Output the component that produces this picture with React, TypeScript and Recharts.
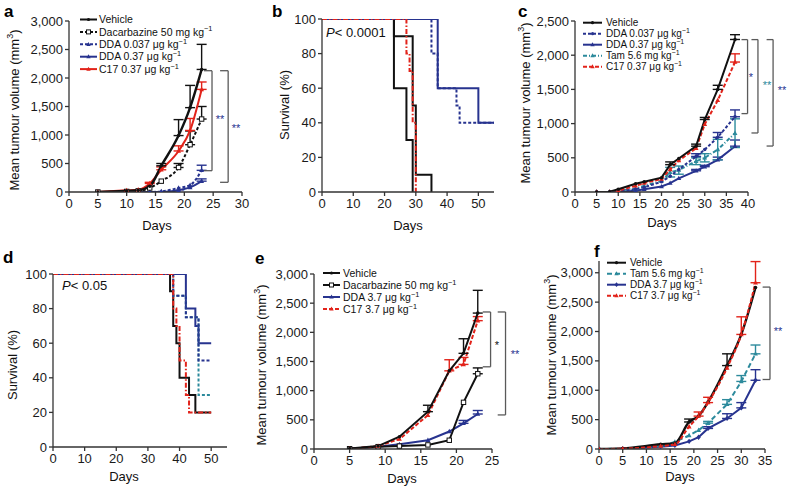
import React from 'react';
import { LineChart, Line, XAxis, YAxis, ErrorBar, ReferenceLine } from 'recharts';

const FONT = '"Liberation Sans", Arial, Helvetica, sans-serif';
const BLACK = '#111111';
const RED = '#e2231a';
const NAVY = '#27338f';
const TEAL = '#2c8a9c';
const GREY = '#5a5a5a';
const AXIS = '#333333';

// ---------- Panel a ----------
const aDays = [5, 10, 12, 14, 16, 19, 21, 23];
const aVehicle = [0, 20, 30, 100, 460, 990, 1480, 2150];
const aVehicleErr = [0, 0, 0, 0, 40, 280, 390, 440];
const aDacar = [0, 10, 20, 70, 190, 430, 830, 1280];
const aDacarErr = [0, 0, 0, 0, 0, 70, 240, 220];
const aDDA037 = [0, 0, 0, 0, 10, 70, 120, 380];
const aDDA037Err = [0, 0, 0, 0, 0, 0, 0, 90];
const aDDA37 = [0, 0, 0, 0, 0, 30, 80, 190];
const aDDA37Err = [0, 0, 0, 0, 0, 0, 0, 40];
const aC17 = [0, 30, 40, 150, 390, 720, 1080, 1800];
const aC17Err = [0, 0, 0, 20, 50, 90, 210, 130];
const aXTicks = [0, 5, 10, 15, 20, 25, 30];
const volTicks3000 = [0, 500, 1000, 1500, 2000, 2500, 3000];

// ---------- Panel b (survival) ----------
const bBlack1Days = [0, 23, 27, 29];
const bBlack1Surv = [100, 60, 30, 0];
const bBlack2Days = [0, 23, 29, 30, 35];
const bBlack2Surv = [100, 90, 50, 10, 0];
const bRedDays = [0, 27, 28, 29, 30];
const bRedSurv = [100, 80, 70, 40, 0];
const bNavyDays = [0, 37, 50, 55];
const bNavySurv = [100, 60, 40, 40];
const bNavyDashDays = [0, 35, 37, 43, 44, 55];
const bNavyDashSurv = [100, 80, 60, 50, 40, 40];
const survXTicks = [0, 10, 20, 30, 40, 50];
const survYTicks = [0, 20, 40, 60, 80, 100];

// ---------- Panel c ----------
const cDays = [5, 8, 10, 14, 16, 20, 22, 24, 28, 30, 33, 37];
const cVehicle = [0, 5, 40, 120, 150, 210, 400, 490, 670, 1060, 1500, 2230];
const cVehicleErr = [0, 0, 0, 0, 0, 0, 40, 0, 30, 30, 60, 70];
const cDDA037 = [0, 0, 10, 40, 70, 150, 230, 330, 520, 620, 800, 1100];
const cDDA037Err = [0, 0, 0, 0, 0, 0, 0, 0, 40, 0, 70, 100];
const cDDA37 = [0, 0, 0, 20, 40, 80, 130, 200, 310, 370, 470, 670];
const cDDA37Err = [0, 0, 0, 0, 0, 0, 0, 0, 20, 20, 40, 90];
const cTam = [0, 0, 20, 50, 90, 160, 290, 320, 450, 500, 620, 860];
const cTamErr = [0, 0, 0, 0, 0, 0, 70, 60, 50, 60, 150, 210];
const cC17 = [0, 0, 20, 90, 130, 190, 330, 460, 640, 990, 1340, 1900];
const cC17Err = [0, 0, 0, 0, 0, 0, 0, 0, 0, 0, 0, 120];
const cXTicks = [0, 5, 10, 15, 20, 25, 30, 35, 40];
const cYTicks = [0, 500, 1000, 1500, 2000, 2500];

// ---------- Panel d (survival) ----------
const dBlackDays = [0, 37, 38, 39, 40, 43, 45, 50];
const dBlackSurv = [100, 90, 70, 60, 40, 30, 20, 20];
const dRedDays = [0, 38, 39, 40, 42, 43, 50];
const dRedSurv = [100, 80, 70, 50, 30, 20, 20];
const dNavyDays = [0, 42, 45, 46, 50];
const dNavySurv = [100, 80, 70, 60, 60];
const dNavyDashDays = [0, 38, 42, 46, 50];
const dNavyDashSurv = [100, 87.5, 75, 50, 50];
const dTealDays = [0, 38, 42, 46, 50];
const dTealSurv = [100, 87.5, 75, 30, 30];

// ---------- Panel e ----------
const eDays = [5, 9, 12, 16, 19, 21, 23];
const eVehicle = [10, 50, 210, 640, 1340, 1640, 2330];
const eVehicleErr = [0, 0, 0, 110, 0, 250, 390];
const eDacar = [5, 40, 50, 70, 150, 800, 1290];
const eDacarErr = [0, 0, 0, 0, 0, 0, 100];
const eDDA = [5, 40, 80, 150, 300, 440, 600];
const eDDAErr = [0, 0, 0, 0, 0, 50, 60];
const eC17 = [0, 50, 170, 580, 1340, 1450, 2200];
const eC17Err = [0, 0, 0, 0, 190, 120, 70];
const eXTicks = [0, 5, 10, 15, 20, 25];

// ---------- Panel f ----------
const fDays = [0, 5, 13, 16, 19, 21, 23, 27, 30, 33];
const fVehicle = [0, 10, 80, 100, 460, 560, 800, 1420, 1950, 2750];
const fVehicleErr = [0, 0, 0, 0, 50, 0, 0, 200, 0, 0];
const fTam = [0, 5, 50, 120, 230, 320, 440, 760, 1150, 1620];
const fTamErr = [0, 0, 0, 0, 0, 0, 30, 80, 100, 150];
const fDDA = [0, 5, 40, 60, 130, 200, 350, 520, 700, 1170];
const fDDAErr = [0, 0, 0, 0, 0, 0, 30, 80, 90, 180];
const fC17 = [0, 5, 50, 80, 380, 560, 790, 1380, 1950, 2830];
const fC17Err = [0, 0, 0, 0, 0, 70, 90, 0, 300, 360];
const fXTicks = [0, 5, 10, 15, 20, 25, 30, 35];

// ---------- helpers ----------
type Shape = 'dot' | 'square' | 'tri' | 'diamond' | 'none';

function rows(days: number[], vals: number[], errs?: number[], sym = false) {
  return days.map((x, i) => {
    const ev = errs ? errs[i] : 0;
    return { x, y: vals[i], e: ev ? (sym ? ev : [0, ev]) : null };
  });
}

function Marker({ cx, cy, shape, color, s = 2.2 }: { cx: number; cy: number; shape: Shape; color: string; s?: number }) {
  if (shape === 'none') return null;
  if (shape === 'dot') return <circle cx={cx} cy={cy} r={s * 0.8} fill={color} stroke="none" />;
  if (shape === 'square')
    return <rect x={cx - s} y={cy - s} width={2 * s} height={2 * s} fill="#fff" stroke={color} strokeWidth={1} />;
  if (shape === 'tri')
    return <path d={`M${cx},${cy - s * 1.2}L${cx + s * 1.1},${cy + s * 0.8}L${cx - s * 1.1},${cy + s * 0.8}Z`} fill={color} />;
  return <path d={`M${cx},${cy - s * 1.2}L${cx + s},${cy}L${cx},${cy + s * 1.2}L${cx - s},${cy}Z`} fill={color} />;
}

const dotFn = (shape: Shape, color: string, s = 2.2) => (p: any) => {
  const k = `m-${p.index}`;
  if (p.cx == null || p.cy == null) return <g key={k} />;
  return (
    <g key={k}>
      <Marker cx={p.cx} cy={p.cy} shape={shape} color={color} s={s} />
    </g>
  );
};

function series(
  key: string,
  data: any[],
  color: string,
  opts: { dash?: string; shape?: Shape; curve?: any; width?: number; err?: boolean }
) {
  return (
    <Line
      key={key}
      data={data}
      dataKey="y"
      type={opts.curve || 'linear'}
      stroke={color}
      strokeWidth={opts.width || 2}
      strokeDasharray={opts.dash}
      dot={opts.shape && opts.shape !== 'none' ? dotFn(opts.shape, color) : false}
      activeDot={false}
      isAnimationActive={false}
    >
      {opts.err ? <ErrorBar dataKey="e" width={5} stroke={color} strokeWidth={1.4} direction="y" /> : null}
    </Line>
  );
}

function stepSeries(key: string, days: number[], surv: number[], color: string, dash?: string) {
  const data = days.map((x, i) => ({ x, y: surv[i] }));
  return (
    <Line
      key={key}
      data={data}
      dataKey="y"
      type="stepAfter"
      stroke={color}
      strokeWidth={2}
      strokeDasharray={dash}
      dot={false}
      activeDot={false}
      isAnimationActive={false}
    />
  );
}

function bracket(key: string, x0: number, x1: number, yTop: number, yBot: number) {
  const common = { stroke: GREY, strokeWidth: 1.3, ifOverflow: 'visible' as const };
  return [
    <ReferenceLine key={key + 't'} segment={[{ x: x0, y: yTop }, { x: x1, y: yTop }]} {...common} />,
    <ReferenceLine key={key + 'v'} segment={[{ x: x1, y: yTop }, { x: x1, y: yBot }]} {...common} />,
    <ReferenceLine key={key + 'b'} segment={[{ x: x0, y: yBot }, { x: x1, y: yBot }]} {...common} />,
  ];
}

const fmt = (v: number) => v.toLocaleString('en-US');
const tickStyle = { fontSize: 13, fill: '#1a1a1a', fontFamily: FONT };

function Panel(props: {
  pl: number; pt: number; pw: number; ph: number;
  xDomain: [number, number]; xTicks: number[];
  yDomain: [number, number]; yTicks: number[];
  right?: number; children: any;
}) {
  const { pl, pt, pw, ph, xDomain, xTicks, yDomain, yTicks, children } = props;
  const right = props.right ?? 10;
  const YW = 50, TOPM = 10, XH = 30;
  return (
    <div style={{ position: 'absolute', left: pl - YW, top: pt - TOPM }}>
      <LineChart
        width={pw + YW + right}
        height={ph + TOPM + XH}
        margin={{ top: TOPM, right, bottom: 0, left: 0 }}
      >
        <XAxis
          type="number"
          dataKey="x"
          domain={xDomain}
          ticks={xTicks}
          allowDataOverflow
          height={XH}
          tickSize={4}
          tickMargin={3}
          tick={tickStyle}
          axisLine={{ stroke: AXIS, strokeWidth: 1.3 }}
          tickLine={{ stroke: AXIS, strokeWidth: 1.3 }}
          interval={0}
        />
        <YAxis
          type="number"
          domain={yDomain}
          ticks={yTicks}
          allowDataOverflow
          width={YW}
          tickSize={4}
          tickMargin={2}
          tick={tickStyle}
          tickFormatter={fmt}
          axisLine={{ stroke: AXIS, strokeWidth: 1.3 }}
          tickLine={{ stroke: AXIS, strokeWidth: 1.3 }}
          interval={0}
        />
        {children}
      </LineChart>
    </div>
  );
}

// ---------- legends ----------
type LegendItem = { label: string; sup?: string; color: string; dash?: string; shape: Shape };

const legendA: LegendItem[] = [
  { label: 'Vehicle', color: BLACK, shape: 'dot' },
  { label: 'Dacarbazine 50 mg kg', sup: '\u22121', color: BLACK, dash: '3 2', shape: 'square' },
  { label: 'DDA 0.037 \u03bcg kg', sup: '\u22121', color: NAVY, dash: '3 2', shape: 'tri' },
  { label: 'DDA  0.37 \u03bcg kg', sup: '\u22121', color: NAVY, shape: 'tri' },
  { label: 'C17 0.37 \u03bcg kg', sup: '\u22121', color: RED, shape: 'tri' },
];
const legendC: LegendItem[] = [
  { label: 'Vehicle', color: BLACK, shape: 'dot' },
  { label: 'DDA 0.037 \u03bcg kg', sup: '\u22121', color: NAVY, dash: '3 2', shape: 'dot' },
  { label: 'DDA 0.37 \u03bcg kg', sup: '\u22121', color: NAVY, shape: 'tri' },
  { label: 'Tam 5.6 mg kg', sup: '\u22121', color: TEAL, dash: '4 2 1 2', shape: 'tri' },
  { label: 'C17 0.37 \u03bcg kg', sup: '\u22121', color: RED, dash: '4 2', shape: 'tri' },
];
const legendE: LegendItem[] = [
  { label: 'Vehicle', color: BLACK, shape: 'dot' },
  { label: 'Dacarbazine 50 mg kg', sup: '\u22121', color: BLACK, shape: 'square' },
  { label: 'DDA 3.7 \u03bcg kg', sup: '\u22121', color: NAVY, shape: 'tri' },
  { label: 'C17 3.7 \u03bcg kg', sup: '\u22121', color: RED, dash: '4 2', shape: 'tri' },
];
const legendF: LegendItem[] = [
  { label: 'Vehicle', color: BLACK, shape: 'dot' },
  { label: 'Tam 5.6 mg kg', sup: '\u22121', color: TEAL, dash: '5 3', shape: 'tri' },
  { label: 'DDA 3.7 \u03bcg kg', sup: '\u22121', color: NAVY, shape: 'diamond' },
  { label: 'C17 3.7 \u03bcg kg', sup: '\u22121', color: RED, dash: '4 2', shape: 'tri' },
];

function Legend({ x0, x1, tx, y0, dy, fs, items }: { x0: number; x1: number; tx: number; y0: number; dy: number; fs: number; items: LegendItem[] }) {
  return (
    <g>
      {items.map((it, i) => {
        const cy = y0 + i * dy;
        return (
          <g key={i}>
            <line x1={x0} y1={cy} x2={x1} y2={cy} stroke={it.color} strokeWidth={2} strokeDasharray={it.dash} />
            <Marker cx={(x0 + x1) / 2} cy={cy} shape={it.shape} color={it.color} s={2} />
            <text x={tx} y={cy + fs * 0.36} fontSize={fs} fill="#111" fontFamily={FONT}>
              {it.label}
              {it.sup ? <tspan dy={-fs * 0.4} fontSize={fs * 0.7}>{it.sup}</tspan> : null}
            </text>
          </g>
        );
      })}
    </g>
  );
}

function YTitle({ cx, cy, text, sup }: { cx: number; cy: number; text: string; sup?: boolean }) {
  return (
    <text transform={`translate(${cx},${cy}) rotate(-90)`} textAnchor="middle" fontSize={13} fill="#111" fontFamily={FONT} dominantBaseline="central">
      {sup ? (
        <>
          {'Mean tumour volume (mm'}
          <tspan dy={-4} fontSize={9}>3</tspan>
          <tspan dy={4}>)</tspan>
        </>
      ) : (
        text
      )}
    </text>
  );
}

function XTitle({ cx, y }: { cx: number; y: number }) {
  return (
    <text x={cx} y={y} textAnchor="middle" fontSize={13} fill="#111" fontFamily={FONT}>
      Days
    </text>
  );
}

function Letter({ x, y, t }: { x: number; y: number; t: string }) {
  return (
    <text x={x} y={y} fontSize={17} fontWeight="bold" fill="#000" fontFamily={FONT}>
      {t}
    </text>
  );
}

function Star({ x, y, t, color, fs = 11 }: { x: number; y: number; t: string; color: string; fs?: number }) {
  return (
    <text x={x} y={y + fs * 0.45} textAnchor="middle" fontSize={fs} fill={color} fontFamily={FONT}>
      {t}
    </text>
  );
}

function PText({ x, y, rest }: { x: number; y: number; rest: string }) {
  return (
    <text x={x} y={y} fontSize={13} fill="#111" fontFamily={FONT}>
      <tspan fontStyle="italic">P</tspan>
      {rest}
    </text>
  );
}

export default function App() {
  return (
    <div style={{ position: 'absolute', left: 0, top: 0, width: 788, height: 489, background: '#fff', overflow: 'hidden' }}>
      {/* a */}
      <Panel pl={69} pt={21} pw={173} ph={171} xDomain={[0, 30]} xTicks={aXTicks} yDomain={[0, 3000]} yTicks={volTicks3000}>
        {series('aD37', rows(aDays, aDDA37, aDDA37Err), NAVY, { shape: 'tri', curve: 'monotone', err: true })}
        {series('aD037', rows(aDays, aDDA037, aDDA037Err), NAVY, { dash: '3 2', shape: 'tri', curve: 'monotone', err: true })}
        {series('aDac', rows(aDays, aDacar, aDacarErr), BLACK, { dash: '3 2', shape: 'square', curve: 'monotone', err: true })}
        {series('aC17', rows(aDays, aC17, aC17Err), RED, { shape: 'tri', curve: 'monotone', err: true })}
        {series('aVeh', rows(aDays, aVehicle, aVehicleErr), BLACK, { shape: 'dot', curve: 'monotone', err: true, width: 2.4 })}
        {bracket('a1', 23.4, 24.8, 2128, 374)}
        {bracket('a2', 26.2, 27.6, 2128, 170)}
      </Panel>

      {/* b */}
      <Panel pl={322} pt={19} pw={172} ph={173} xDomain={[0, 55]} xTicks={survXTicks} yDomain={[0, 100]} yTicks={survYTicks}>
        {stepSeries('bK1', bBlack1Days, bBlack1Surv, BLACK)}
        {stepSeries('bK2', bBlack2Days, bBlack2Surv, BLACK)}
        {stepSeries('bN', bNavyDays, bNavySurv, NAVY)}
        {stepSeries('bND', bNavyDashDays, bNavyDashSurv, NAVY, '3 2')}
        {stepSeries('bR', bRedDays, bRedSurv, RED, '5 2 1.5 2')}
      </Panel>

      {/* c */}
      <Panel pl={575} pt={21} pw={173} ph={171} xDomain={[0, 40]} xTicks={cXTicks} yDomain={[0, 2500]} yTicks={cYTicks} right={40}>
        {series('cD37', rows(cDays, cDDA37, cDDA37Err), NAVY, { shape: 'tri', err: true })}
        {series('cTam', rows(cDays, cTam, cTamErr, true), TEAL, { dash: '4 2 1 2', shape: 'tri', err: true })}
        {series('cD037', rows(cDays, cDDA037, cDDA037Err), NAVY, { dash: '3 2', shape: 'dot', err: true })}
        {series('cC17', rows(cDays, cC17, cC17Err), RED, { dash: '4 2', shape: 'tri', err: true })}
        {series('cVeh', rows(cDays, cVehicle, cVehicleErr), BLACK, { shape: 'dot', err: true })}
        {bracket('c1', 38.5, 39.9, 2228, 1146)}
        {bracket('c2', 40.8, 42.3, 2228, 863)}
        {bracket('c3', 44.3, 45.8, 2228, 672)}
      </Panel>

      {/* d */}
      <Panel pl={53} pt={274} pw={174} ph={173} xDomain={[0, 55]} xTicks={survXTicks} yDomain={[0, 100]} yTicks={survYTicks}>
        {stepSeries('dK', dBlackDays, dBlackSurv, BLACK)}
        {stepSeries('dN', dNavyDays, dNavySurv, NAVY)}
        {stepSeries('dT', dTealDays, dTealSurv, TEAL, '3 2')}
        {stepSeries('dND', dNavyDashDays, dNavyDashSurv, NAVY, '3 2')}
        {stepSeries('dR', dRedDays, dRedSurv, RED, '5 2 1.5 2')}
      </Panel>

      {/* e */}
      <Panel pl={314} pt={274} pw={178} ph={175} xDomain={[0, 25]} xTicks={eXTicks} yDomain={[0, 3000]} yTicks={volTicks3000} right={24}>
        {series('eDDA', rows(eDays, eDDA, eDDAErr), NAVY, { shape: 'tri', err: true })}
        {series('eDac', rows(eDays, eDacar, eDacarErr), BLACK, { shape: 'square', err: true })}
        {series('eC17', rows(eDays, eC17, eC17Err), RED, { dash: '4 2', shape: 'tri', err: true })}
        {series('eVeh', rows(eDays, eVehicle, eVehicleErr), BLACK, { shape: 'dot', err: true })}
        {bracket('e1', 23.7, 24.8, 2349, 1409)}
        {bracket('e2', 25.8, 26.9, 2349, 584)}
      </Panel>

      {/* f */}
      <Panel pl={599} pt={261} pw={166} ph={188} xDomain={[0, 35]} xTicks={fXTicks} yDomain={[0, 3200]} yTicks={volTicks3000} right={23}>
        {series('fDDA', rows(fDays, fDDA, fDDAErr), NAVY, { shape: 'diamond', err: true })}
        {series('fTam', rows(fDays, fTam, fTamErr), TEAL, { dash: '5 3', shape: 'tri', err: true })}
        {series('fVeh', rows(fDays, fVehicle, fVehicleErr), BLACK, { shape: 'dot', curve: 'monotone', err: true, width: 2.4 })}
        {series('fC17', rows(fDays, fC17, fC17Err), RED, { dash: '4 2', shape: 'tri', curve: 'monotone', err: true })}
        {bracket('f1', 34.5, 36.05, 2756, 1183)}
      </Panel>

      <svg width={788} height={489} style={{ position: 'absolute', left: 0, top: 0, pointerEvents: 'none' }}>
        <Letter x={4} y={17} t="a" />
        <Letter x={272} y={17} t="b" />
        <Letter x={518} y={17} t="c" />
        <Letter x={3} y={263} t="d" />
        <Letter x={255} y={264} t="e" />
        <Letter x={594} y={257} t="f" />

        <YTitle cx={14} cy={110} text="" sup />
        <YTitle cx={284} cy={105} text="Survival (%)" />
        <YTitle cx={525} cy={103} text="" sup />
        <YTitle cx={12} cy={365} text="Survival (%)" />
        <YTitle cx={261} cy={365} text="" sup />
        <YTitle cx={551} cy={355} text="" sup />

        <XTitle cx={157} y={230} />
        <XTitle cx={408} y={230} />
        <XTitle cx={662} y={227} />
        <XTitle cx={124} y={481} />
        <XTitle cx={402} y={483} />
        <XTitle cx={680} y={481} />

        <Legend x0={80} x1={97} tx={99} y0={19.5} dy={12.4} fs={10.5} items={legendA} />
        <Legend x0={583} x1={602} tx={606} y0={22.7} dy={11} fs={10} items={legendC} />
        <Legend x0={323} x1={340} tx={343} y0={273} dy={12} fs={10.5} items={legendE} />
        <Legend x0={607} x1={626} tx={630} y0={262.7} dy={11} fs={10} items={legendF} />

        <PText x={326} y={37} rest="< 0.0001" />
        <PText x={62} y={290} rest="< 0.05" />

        <Star x={220} y={118} t="**" color={NAVY} />
        <Star x={236} y={127} t="**" color={NAVY} />
        <Star x={183} y={190} t="*" color={NAVY} fs={9} />
        <Star x={751} y={76} t="*" color={NAVY} />
        <Star x={767} y={84} t="**" color={TEAL} />
        <Star x={782} y={89} t="**" color={NAVY} />
        <Star x={497} y={344} t="*" color={BLACK} />
        <Star x={515} y={353} t="**" color={NAVY} />
        <Star x={778} y={330} t="**" color={NAVY} />
      </svg>
    </div>
  );
}
